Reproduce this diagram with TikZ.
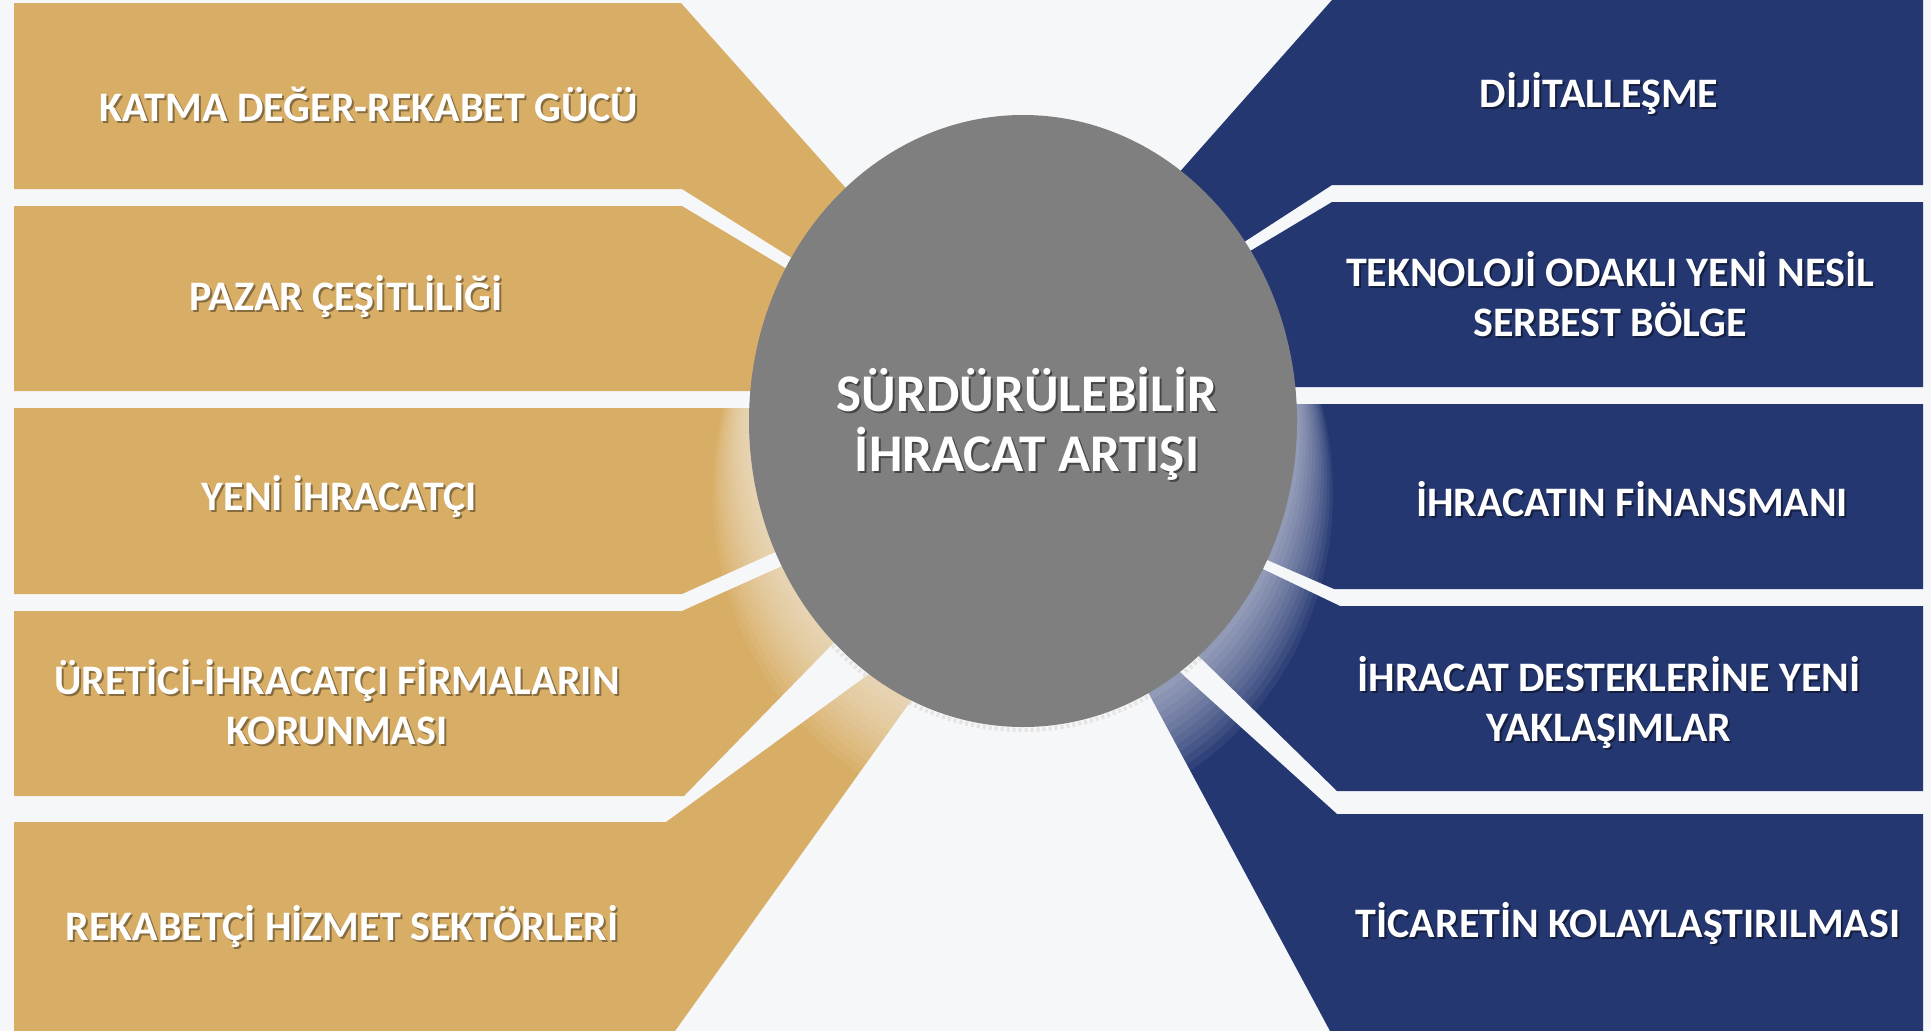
\documentclass[tikz,border=0pt]{standalone}
\usepackage{fontspec}
\setmainfont{Carlito}
\usetikzlibrary{shapes.geometric}

\definecolor{goldfill}{RGB}{216,174,102}
\definecolor{navyfill}{RGB}{36,55,113}
\definecolor{coregray}{RGB}{127,127,127}
\definecolor{bgfill}{RGB}{246,247,249}

% text with a soft drop shadow
\newcommand{\shd}[1]{\leavevmode\rlap{\color{shadowc}\kern2pt\raisebox{-2pt}{#1}}#1}

\begin{document}
\begin{tikzpicture}[x=1pt, y=-1pt,
      goldpanel/.style ={fill=goldfill, draw=none},
      navypanel/.style ={fill=navyfill, draw=none},
      glabel/.style ={text=white, align=center, inner sep=0pt,
         font={\fontsize{42}{50}\selectfont\bfseries\colorlet{shadowc}{goldfill!62!black}}},
      nlabel/.style ={text=white, align=center, inner sep=0pt,
         font={\fontsize{42}{50}\selectfont\bfseries\colorlet{shadowc}{navyfill!55!black}}},
      core/.style ={ellipse, fill=coregray, draw=none, minimum width=548pt, minimum height=612pt}]

   \useasboundingbox (0,0) rectangle (1931,1031);
   \fill[bgfill] (0,0) rectangle (1931,1031);

   % dashed rim under the core
   \begin{scope}
   \clip (0,600) rectangle (1931,1031);
   \draw[black!18, line width=4pt, dashed] (1023,421) ellipse (277 and 309);
   \end{scope}

   % left panels
   \fill[goldpanel] (14,3) -- (681,3) -- (900,249) -- (900,326) -- (682,189) -- (14,189) -- cycle;
   \fill[goldpanel] (14,206) -- (682,206) -- (900,337) -- (900,391) -- (14,391) -- cycle;
   \fill[goldpanel] (14,408) -- (900,408) -- (900,496) -- (682,594) -- (14,594) -- cycle;
   \fill[goldpanel] (14,611) -- (682,611) -- (900,513) -- (900,575) -- (684,796) -- (14,796) -- cycle;
   \fill[goldpanel] (14,822) -- (666,822) -- (950,615) -- (970,618) -- (675,1031) -- (14,1031) -- cycle;

   % right panels
   \fill[navypanel] (1332,0) -- (1923,0) -- (1923,185) -- (1332,185) -- (1150,303) -- (1130,228) -- cycle;
   \fill[navypanel] (1332,202) -- (1923,202) -- (1923,387) -- (1150,387) -- (1150,311) -- cycle;
   \fill[navypanel] (1150,404) -- (1923,404) -- (1923,589) -- (1334,589) -- (1150,509) -- cycle;
   \fill[navypanel] (1340,606) -- (1923,606) -- (1923,791) -- (1337,791) -- (1130,589) -- (1150,515) -- cycle;
   \fill[navypanel] (1337,814) -- (1923,814) -- (1923,1031) -- (1330,1031) -- (1120,640) -- (1110,609) -- cycle;

   % glow round the lower half of the core
   \begin{scope}
   \clip (0,400) rectangle (1931,1031);
   \foreach \r in {1,...,12}
      \fill[white, opacity=0.06] (1023,{421+6*\r}) ellipse ({274+3*\r} and {306+2*\r});
   \end{scope}

   \node[core] (core) at (1023,421) {};
   \node[text=white, align=center, inner sep=0pt,
         font={\fontsize{53}{60}\selectfont\bfseries\colorlet{shadowc}{coregray!55!black}}]
         (goal) at (1027,425) {\shd{SÜRDÜRÜLEBİLİR}\\\shd{İHRACAT ARTIŞI}};

   \node[glabel] (katma)   at (369,105) {\shd{KATMA DEĞER-REKABET GÜCÜ}};
   \node[glabel] (pazar)   at (346,297) {\shd{PAZAR ÇEŞİTLİLİĞİ}};
   \node[glabel] (yeni)    at (339,497) {\shd{YENİ İHRACATÇI}};
   \node[glabel] (uretici) at (337,703) {\shd{ÜRETİCİ-İHRACATÇI FİRMALARIN}\\\shd{KORUNMASI}};
   \node[glabel] (hizmet)  at (342,927) {\shd{REKABETÇİ HİZMET SEKTÖRLERİ}};

   \node[nlabel] (dijital) at (1599,94)  {\shd{DİJİTALLEŞME}};
   \node[nlabel] (serbest) at (1610,295) {\shd{TEKNOLOJİ ODAKLI YENİ NESİL}\\\shd{SERBEST BÖLGE}};
   \node[nlabel] (finans)  at (1632,500) {\shd{İHRACATIN FİNANSMANI}};
   \node[nlabel] (destek)  at (1609,703) {\shd{İHRACAT DESTEKLERİNE YENİ}\\\shd{YAKLAŞIMLAR}};
   \node[nlabel] (ticaret) at (1628,924) {\shd{TİCARETİN KOLAYLAŞTIRILMASI}};
 \end{tikzpicture}
\end{document}
